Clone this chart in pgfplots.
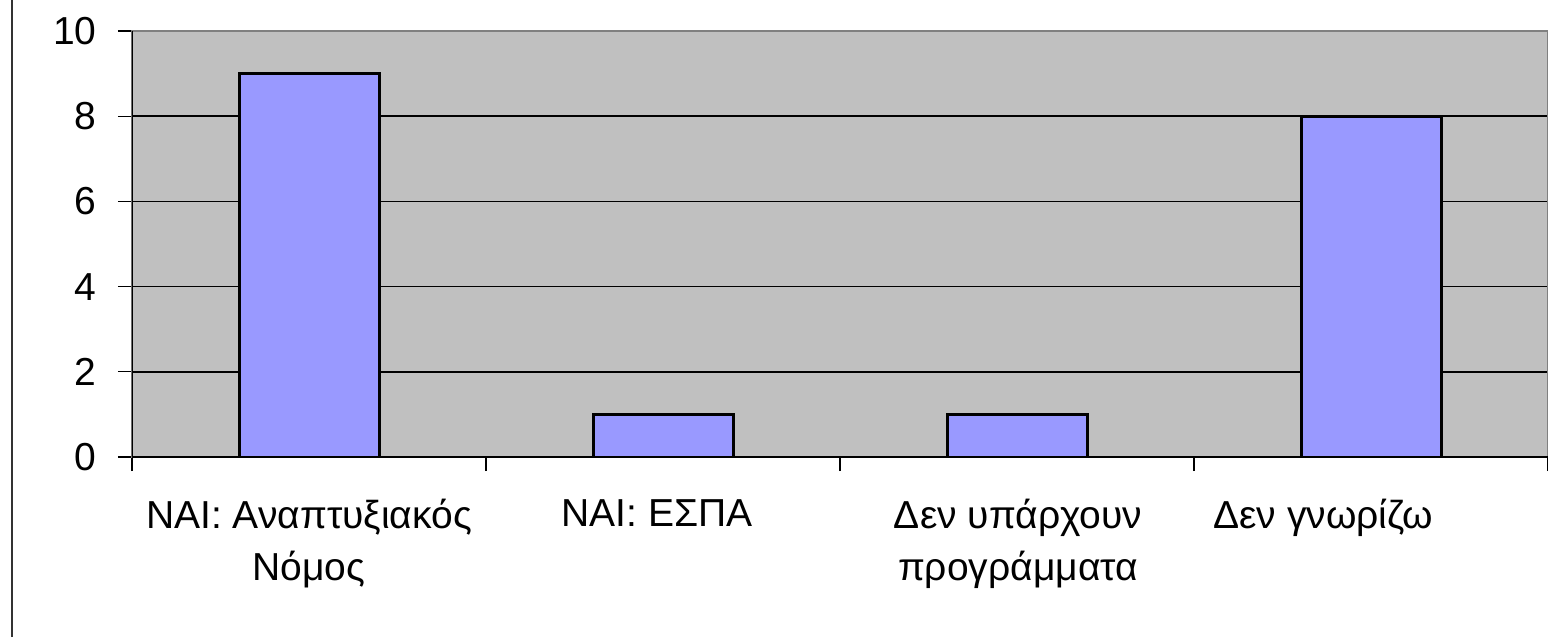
\documentclass[border=0pt]{standalone}
\usepackage{pgfplots}
\pgfplotsset{compat=1.18}
\usepackage{fontspec}
\setmainfont{Liberation Sans}

\definecolor{plotbg}{HTML}{C0C0C0}
\definecolor{barfill}{HTML}{9999FF}
\definecolor{frame}{HTML}{808080}

\begin{document}
\begin{tikzpicture}
\useasboundingbox (0,0) rectangle (154.8mm,63.7mm);
% outer chart frame (only the left edge is visible)
\draw[line width=0.2mm, black!80] (1.15mm,0) -- (1.15mm,63.7mm);

\begin{axis}[
  at={(13.2mm,18.0mm)}, anchor=south west,
  width=141.6mm, height=42.6mm, scale only axis,
  xmin=0, xmax=4, ymin=0, ymax=10,
  axis background/.style={fill=plotbg},
  axis line style={frame, line width=0.15mm},
  font=\fontsize{11.1}{14.8}\selectfont,
  /pgf/number format/assume math mode=true,
  ytick={0,2,...,10}, ytick pos=left,
  xtick={0,1,2,3,4}, xticklabels={}, xtick pos=bottom,
  tick align=outside, major tick length=1.4mm,
  tick style={black, line width=0.12mm},
  yticklabel style={xshift=-0.9mm},
  ymajorgrids, grid style={black, line width=0.15mm},
  extra x ticks={0.5,1.483,2.503,3.364},
  extra x tick labels={{NAI: Αναπτυξιακός\\Νόμος},{NAI: ΕΣΠΑ},{Δεν υπάρχουν\\προγράμματα},{Δεν γνωρίζω}},
  extra x tick style={major tick length=0pt, grid=none,
    xticklabel style={align=center, yshift=-3.0mm}},
]
\addplot[ybar, bar width=14mm, fill=barfill, draw=black, line width=0.3mm]
  coordinates {(0.5,9) (1.5,1) (2.5,1) (3.5,8)};
\draw[black, line width=0.2mm] (rel axis cs:0,0) -- (rel axis cs:0,1);
\draw[black, line width=0.15mm] (rel axis cs:0,0) -- (rel axis cs:1,0);
\end{axis}
\end{tikzpicture}
\end{document}
